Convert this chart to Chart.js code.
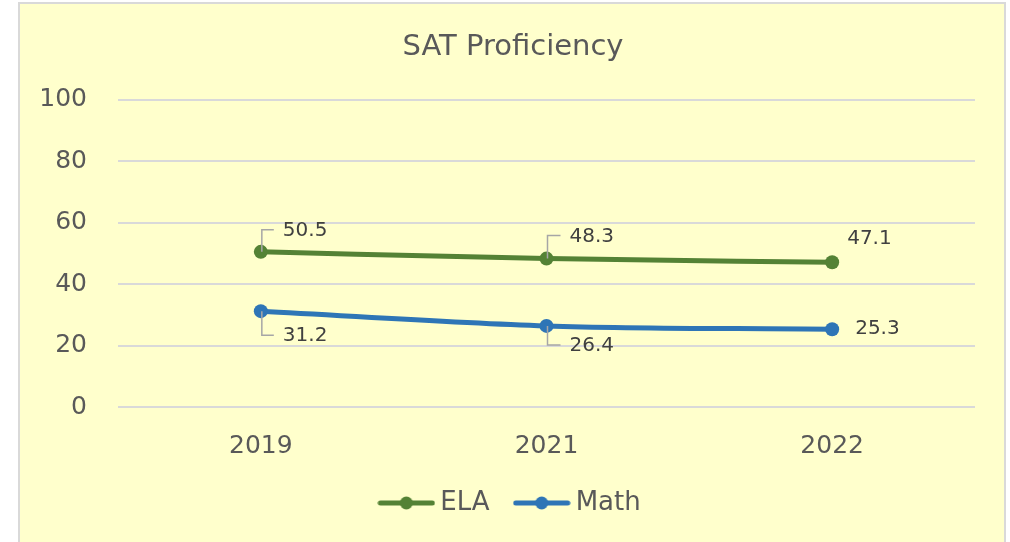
<!DOCTYPE html>
<html>
<head>
<meta charset="utf-8">
<script src="https://cdn.jsdelivr.net/npm/chart.js@4.4.0/dist/chart.umd.min.js"></script>
<style>
  html, body { margin: 0; padding: 0; background: #fff; }
  #wrap { width: 1010px; height: 542px; }
</style>
</head>
<body>
<div id="wrap"><canvas id="chart" width="1010" height="542"></canvas></div>
<script>
const years = ['2019', '2021', '2022'];
const elaValues = [50.5, 48.3, 47.1];
const mathValues = [31.2, 26.4, 25.3];
const yTicks = [0, 20, 40, 60, 80, 100];

const green = '#548235';
const blue = '#2E75B6';
const textGray = '#595959';

// where each value label sits relative to its point: [dx to text left, dy to text middle, leader?]
const elaLabelPos = [[22, -21, true], [23, -22, true], [15, -24, false]];
const mathLabelPos = [[22, 25, true], [23, 20, true], [23, 0, false]];

function legendMarker(color) {
	const c = document.createElement('canvas');
	c.width = 58;
	c.height = 14;
	const g = c.getContext('2d');
	g.strokeStyle = color;
	g.lineWidth = 5;
	g.lineCap = 'round';
	g.beginPath();
	g.moveTo(3, 7);
	g.lineTo(55, 7);
	g.stroke();
	g.fillStyle = color;
	g.beginPath();
	g.arc(29, 7, 6.5, 0, Math.PI * 2);
	g.fill();
	return c;
}

const cardBackground = {
	id: 'cardBackground',
	beforeDraw(chart) {
		const ctx = chart.ctx;
		ctx.save();
		ctx.fillStyle = '#FFFFCC';
		ctx.fillRect(19, 3, 986, 545);
		ctx.strokeStyle = '#D9D9D9';
		ctx.lineWidth = 2;
		ctx.strokeRect(19, 3, 986, 545);
		ctx.restore();
	},
};

const valueLabels = {
	id: 'valueLabels',
	afterDatasetsDraw(chart) {
		const ctx = chart.ctx;
		ctx.save();
		ctx.font = '20px "DejaVu Sans"';
		ctx.textBaseline = 'middle';
		ctx.textAlign = 'left';
		chart.data.datasets.forEach((ds, di) => {
			const meta = chart.getDatasetMeta(di);
			const pos = ds.labelPos;
			meta.data.forEach((pt, i) => {
				const [dx, dy, leader] = pos[i];
				const tx = pt.x + dx;
				const ty = pt.y + dy;
				if (leader) {
					ctx.strokeStyle = '#A6A6A6';
					ctx.lineWidth = 1.5;
					ctx.beginPath();
					ctx.moveTo(pt.x + 1, pt.y);
					ctx.lineTo(pt.x + 1, ty - 1);
					ctx.lineTo(tx - 9, ty - 1);
					ctx.stroke();
				}
				ctx.fillStyle = '#404040';
				ctx.fillText(ds.data[i].toFixed(1), tx, ty);
			});
		});
		ctx.restore();
	},
};

const ctx = document.getElementById('chart').getContext('2d');

new Chart(ctx, {
	type: 'line',
	data: {
		labels: years,
		datasets: [
			{
				label: 'ELA',
				data: elaValues,
				borderColor: green,
				backgroundColor: green,
				borderWidth: 5,
				pointRadius: 7,
				pointBackgroundColor: green,
				pointBorderWidth: 0,
				cubicInterpolationMode: 'monotone',
				labelPos: elaLabelPos,
			},
			{
				label: 'Math',
				data: mathValues,
				borderColor: blue,
				backgroundColor: blue,
				borderWidth: 5,
				pointRadius: 7,
				pointBackgroundColor: blue,
				pointBorderWidth: 0,
				cubicInterpolationMode: 'monotone',
				labelPos: mathLabelPos,
			},
		],
	},
	options: {
		responsive: false,
		animation: false,
		layout: {
			padding: { left: 16, right: 0, top: 0, bottom: 16 },
		},
		scales: {
			x: {
				offset: true,
				grid: { display: false, drawTicks: false },
				border: { display: false },
				afterFit: (scale) => {
					scale.height = scale.height - 26;
				},
				ticks: {
					color: textGray,
					font: { family: 'DejaVu Sans', size: 25 },
					padding: 24,
				},
			},
			y: {
				min: 0,
				max: 100,
				afterFit: (scale) => {
					scale.width = 102;
				},
				afterBuildTicks: (scale) => {
					scale.ticks = yTicks.map((v) => ({ value: v }));
				},
				grid: { color: '#D9D9D9', lineWidth: 2, drawTicks: false },
				border: { display: false },
				ticks: {
					color: textGray,
					font: { family: 'DejaVu Sans', size: 25 },
					padding: 31,
				},
			},
			// empty right-hand strip so the title and legend centre like the original
			spacer: {
				position: 'right',
				afterFit: (scale) => {
					scale.width = 35;
				},
				grid: { display: false, drawTicks: false },
				border: { display: false },
				ticks: { display: false },
			},
		},
		plugins: {
			title: {
				display: true,
				text: 'SAT Proficiency',
				color: textGray,
				font: { family: 'DejaVu Sans', size: 29, weight: 'normal' },
				padding: { top: 30, bottom: 35 },
			},
			legend: {
				position: 'bottom',
				labels: {
					color: textGray,
					font: { family: 'DejaVu Sans', size: 26 },
					usePointStyle: true,
					pointStyleWidth: 42,
					padding: 31,
					generateLabels: (chart) =>
						Chart.defaults.plugins.legend.labels
							.generateLabels(chart)
							.map((item, i) => ({
								...item,
								pointStyle: legendMarker(
									chart.data.datasets[i].borderColor
								),
							})),
				},
			},
			tooltip: { enabled: false },
		},
	},
	plugins: [cardBackground, valueLabels],
});
</script>
</body>
</html>
